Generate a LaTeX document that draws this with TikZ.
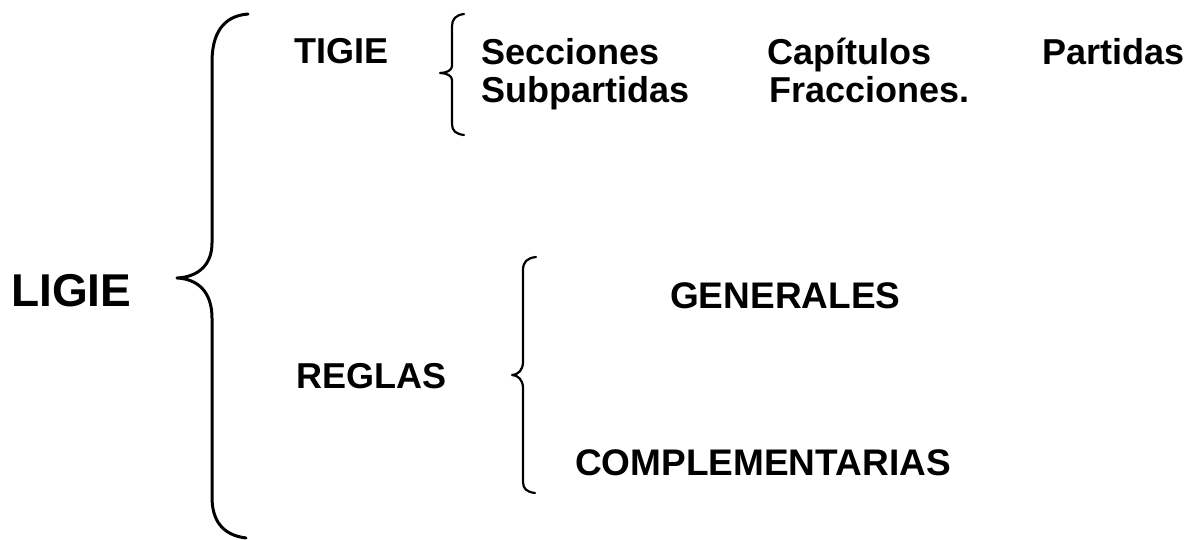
\documentclass[tikz,border=0pt]{standalone}
\usepackage{fontspec}
\setmainfont{Liberation Sans}
\begin{document}
\begin{tikzpicture}[x=1pt,y=-1pt,
  lbl/.style={anchor=base west,inner sep=0pt,font=\fontsize{36}{40}\selectfont\bfseries},
  lblb/.style={anchor=base west,inner sep=0pt,font=\fontsize{37}{41}\selectfont\bfseries},
  big/.style={anchor=base west,inner sep=0pt,font=\fontsize{46}{52}\selectfont\bfseries},
  bigbrace/.style={line width=3pt,line cap=round,line join=round},
  smallbrace/.style={line width=2.2pt,line cap=round,line join=round}]
\useasboundingbox (0,0) rectangle (1197,540);
% texts
\node[big] (ligie) at (11,306) {LIGIE};
\node[lbl] (tigie) at (294,64) {TIGIE};
\node[lbl] (secc) at (481,65) {Secciones};
\node[lbl] (cap) at (767,65) {Capítulos};
\node[lbl] (part) at (1042,65) {Partidas};
\node[lbl] (subp) at (481,103) {Subpartidas};
\node[lbl] (frac) at (769,103) {Fracciones.};
\node[lbl] (reglas) at (296,388) {REGLAS};
\node[lblb] (gen) at (670,308) {GENERALES};
\node[lblb] (comp) at (575,475) {COMPLEMENTARIAS};
% big brace
\draw[bigbrace] (248,14) .. controls (222,16) and (212,35) .. (212,62) -- (212,243)
  .. controls (212,265) and (198,277) .. (177,278)
  .. controls (198,279) and (212,292) .. (212,318) -- (212,497)
  .. controls (212,520) and (222,535) .. (246,538);
% TIGIE brace
\draw[smallbrace] (464,14) .. controls (456,15) and (452,19) .. (452,26) -- (452,66)
  .. controls (452,70) and (447,73) .. (440,73)
  .. controls (447,73) and (452,76) .. (452,80) -- (452,124)
  .. controls (452,131) and (456,134) .. (464,135);
% REGLAS brace
\draw[smallbrace] (536,257) .. controls (527,258) and (523,262) .. (523,270) -- (523,362)
  .. controls (523,370) and (518,375) .. (512,375)
  .. controls (518,375) and (523,380) .. (523,388) -- (523,482)
  .. controls (523,489) and (527,492) .. (535,493);
\end{tikzpicture}
\end{document}
